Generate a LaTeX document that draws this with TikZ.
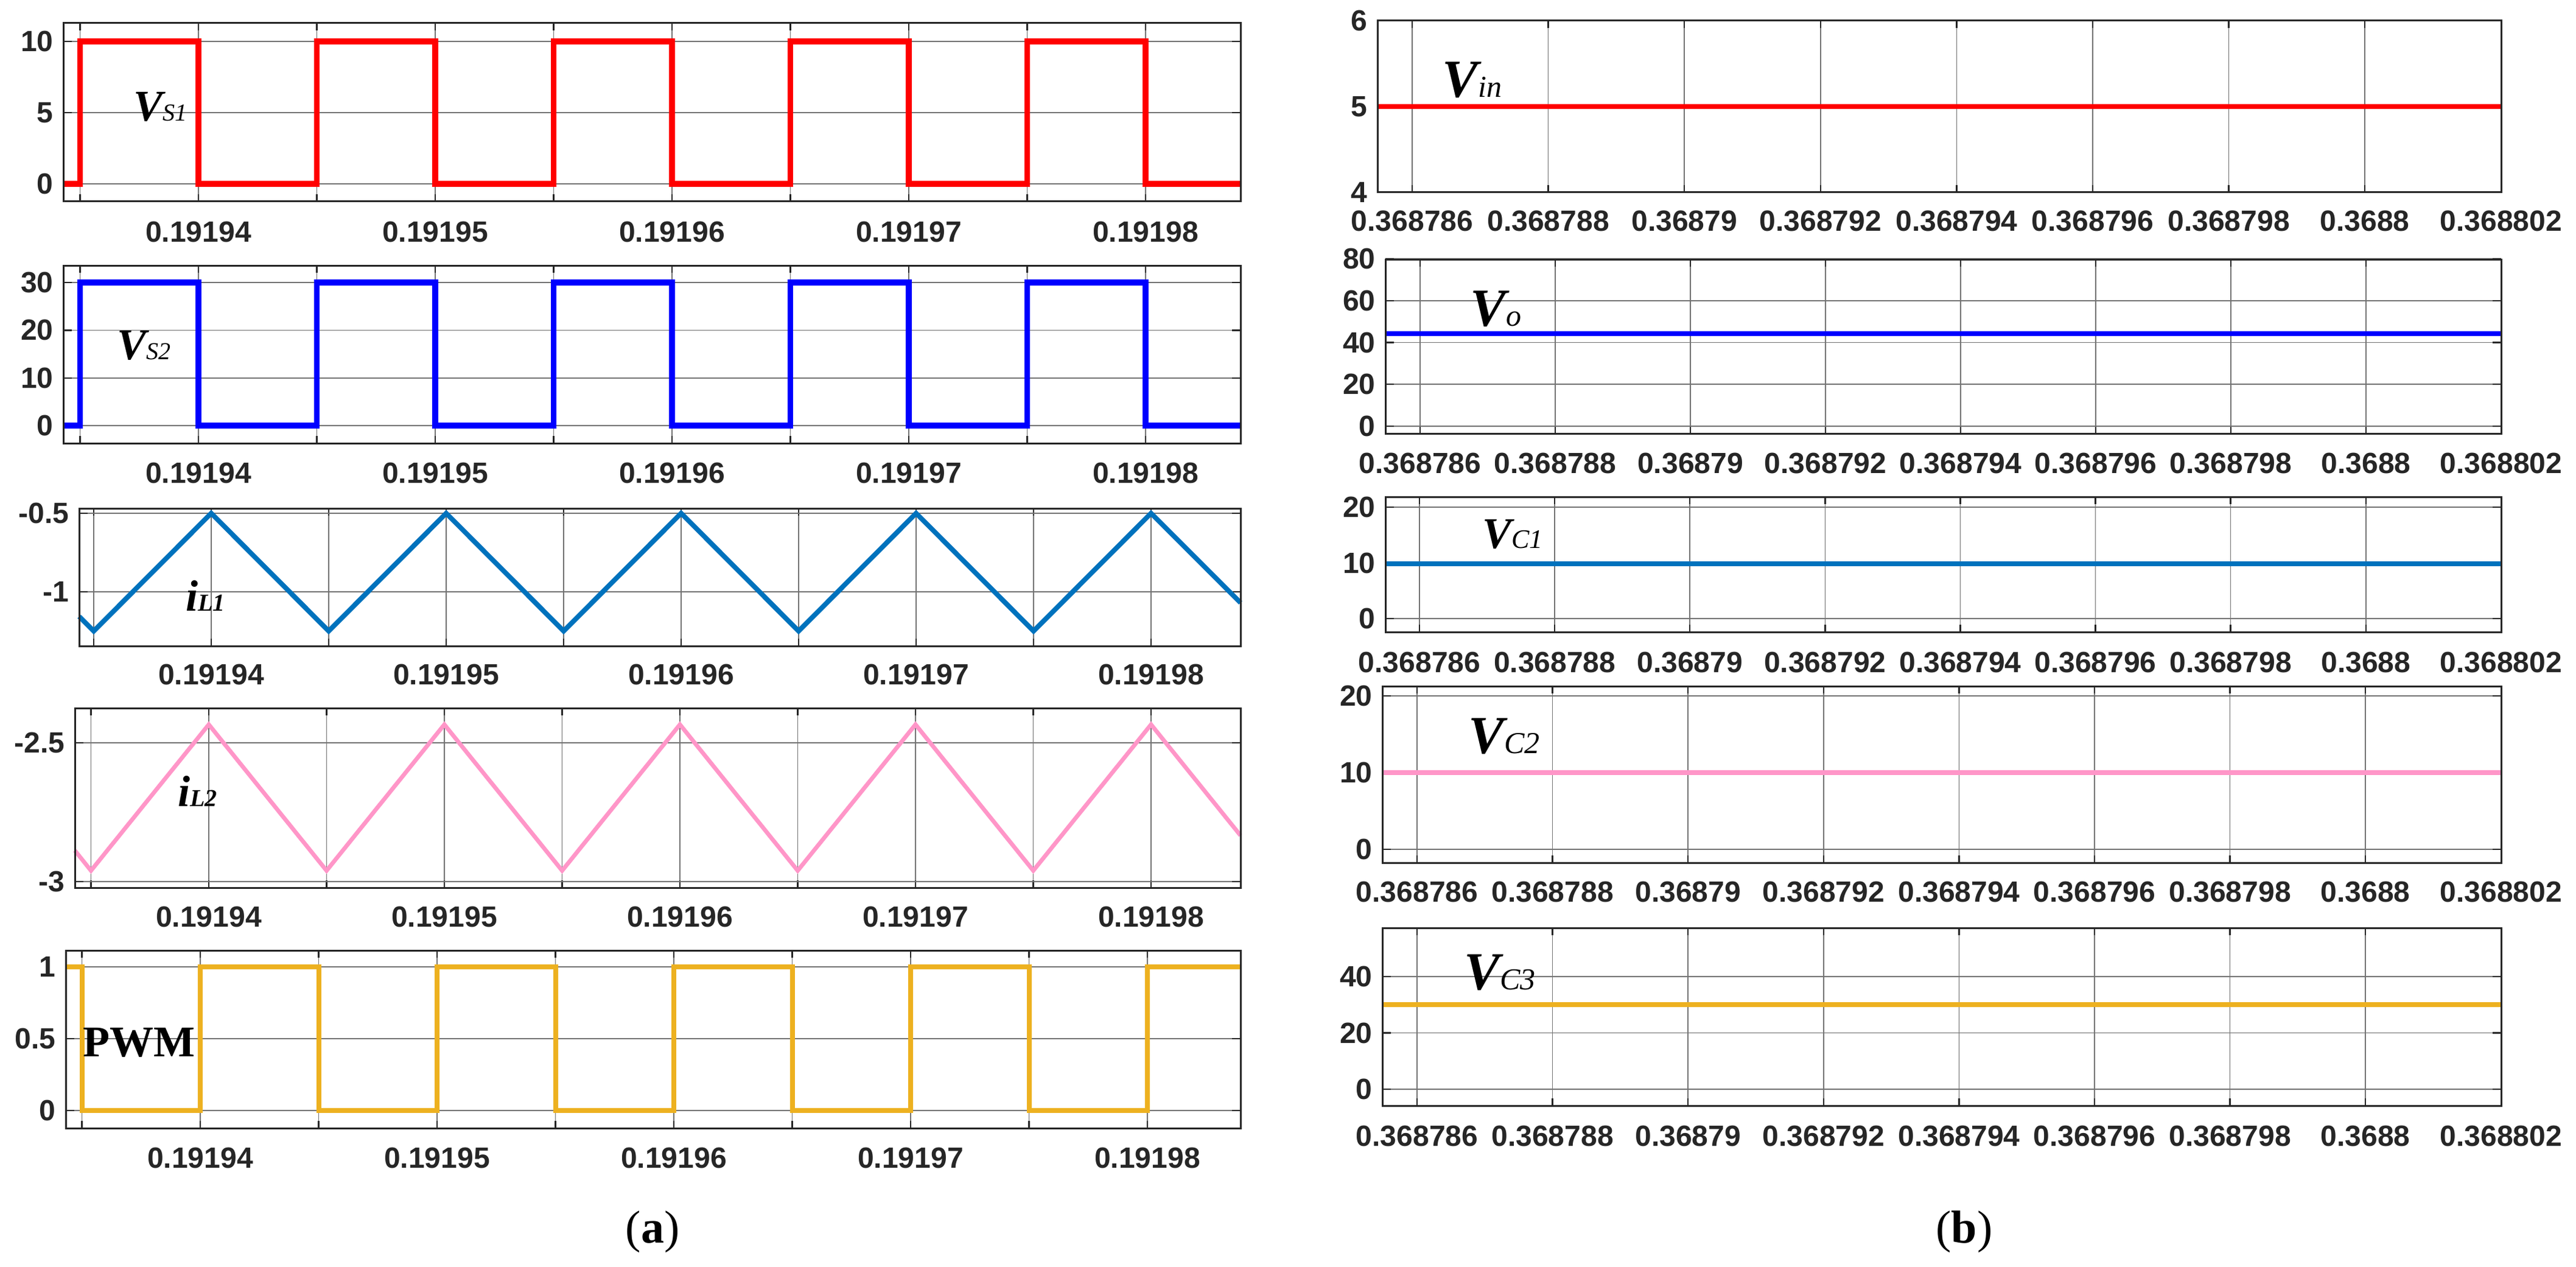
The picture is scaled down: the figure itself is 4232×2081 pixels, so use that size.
\documentclass[tikz,border=0pt]{standalone}
\usepackage{fontspec}
\newfontfamily\tickf{Liberation Sans}
\newfontfamily\lblf{Liberation Serif}
\definecolor{cred}{RGB}{255,0,0}
\definecolor{cblue}{RGB}{0,0,255}
\definecolor{cil}{RGB}{0,114,189}
\definecolor{cpink}{RGB}{255,150,200}
\definecolor{cgold}{RGB}{237,177,32}
\definecolor{axc}{RGB}{38,38,38}
\tikzset{
  gridl/.style={draw=black!55, line width=0.8pt},
  frm/.style={draw=axc, line width=1.5pt},
  tck/.style={draw=axc, line width=1.2pt},
  tlab/.style={font=\tickf\bfseries\fontsize{24}{24}\selectfont, text=axc, inner sep=0pt},
  wave/.style={line width=4.6pt, line join=miter},
  lbl/.style={font=\lblf, inner sep=0pt, anchor=base west},
}
\newcommand\lframe[8]{%
  \foreach \k in {-1,...,8}{\draw[gridl] ({#5+\k*#6},#2) -- ({#5+\k*#6},#4);
    \draw[tck] ({#5+\k*#6},#2) -- ({#5+\k*#6},#2+12) ({#5+\k*#6},#4) -- ({#5+\k*#6},#4-12);}
  \foreach \yy/\lab in {#8}{\draw[gridl] (#1,\yy) -- (#3,\yy);
    \draw[tck] (#1,\yy) -- (#1+14,\yy) (#3,\yy) -- (#3-14,\yy);
    \node[tlab, anchor=east] at (#1-16,\yy) {\lab};}
  \foreach \k/\lab in {0/0.19194,2/0.19195,4/0.19196,6/0.19197,8/0.19198}{%
    \node[tlab] at ({#5+\k*#6},#7) {\lab};}
}
\newcommand\rframe[8]{%
  \foreach \k/\lab in {0/0.368786,1/0.368788,2/0.36879,3/0.368792,4/0.368794,5/0.368796,6/0.368798,7/0.3688,8/0.368802}{%
    \draw[gridl] ({#5+\k*#6},#2) -- ({#5+\k*#6},#4);
    \draw[tck] ({#5+\k*#6},#2) -- ({#5+\k*#6},#2+12) ({#5+\k*#6},#4) -- ({#5+\k*#6},#4-12);
    \node[tlab] at ({#5+\k*#6},#7) {\lab};}
  \foreach \yy/\lab in {#8}{\draw[gridl] (#1,\yy) -- (#3,\yy);
    \draw[tck] (#1,\yy) -- (#1+14,\yy) (#3,\yy) -- (#3-14,\yy);
    \node[tlab, anchor=east] at (#1-16,\yy) {\lab};}
}
\begin{document}
\begin{tikzpicture}[x=0.5pt,y=-0.5pt]
\useasboundingbox (0,0) rectangle (4232,2081);
\fill[white] (0,0) rectangle (4232,2081);
% ---------- (a) ----------
\lframe{104}{38}{2038}{331}{326}{194.5}{381}{302/0,185/5,68/10}
\draw[wave, cred] (104,302) foreach \k in {0,...,4}{ -- ({326+(2*\k-1)*194.5},302) -- ({326+(2*\k-1)*194.5},68) -- ({326+2*\k*194.5},68) -- ({326+2*\k*194.5},302)} -- (2038,302);
\draw[frm] (104,38) rectangle (2038,331);
\node[lbl] (vs1) at (219,199) {{\fontsize{36}{36}\selectfont\bfseries\itshape V}{\fontsize{20}{20}\selectfont\itshape S1}};
\lframe{104}{436}{2038}{728}{326}{194.5}{777}{699/0,620.7/10,542.3/20,464/30}
\draw[wave, cblue] (104,699) foreach \k in {0,...,4}{ -- ({326+(2*\k-1)*194.5},699) -- ({326+(2*\k-1)*194.5},464) -- ({326+2*\k*194.5},464) -- ({326+2*\k*194.5},699)} -- (2038,699);
\draw[frm] (104,436) rectangle (2038,728);
\node[lbl] (vs2) at (192,590) {{\fontsize{36}{36}\selectfont\bfseries\itshape V}{\fontsize{20}{20}\selectfont\itshape S2}};
\lframe{130}{835}{2038}{1061}{347}{193}{1108}{843/-0.5,972/-1}
\draw[wave, cil, line width=4pt] (130,{843+258*0.657}) foreach \k in {0,...,4}{ -- ({347+(2*\k-1)*193},1036.5) -- ({347+2*\k*193},843)} -- (2038,{843+258*0.57});
\draw[frm] (130,835) rectangle (2038,1061);
\node[lbl] (il1) at (305,1003) {{\fontsize{36}{36}\selectfont\bfseries\itshape i}{\fontsize{20}{20}\selectfont\bfseries\itshape L1}};
\lframe{123}{1163}{2038}{1458}{343}{193.5}{1506}{1220/-2.5,1448/-3}
\draw[wave, cpink, line width=3.4pt] (123,{1220+456*0.388}) foreach \k in {0,...,4}{ -- ({343+(2*\k-1)*193.5},1430) -- ({343+2*\k*193.5},1190)} -- (2038,{1220+456*0.334});
\draw[frm] (123,1163) rectangle (2038,1458);
\node[lbl] (il2) at (292,1324) {{\fontsize{36}{36}\selectfont\bfseries\itshape i}{\fontsize{20}{20}\selectfont\bfseries\itshape L2}};
\lframe{108}{1561}{2038}{1853}{329}{194.5}{1902}{1824/0,1706/0.5,1588/1}
\draw[wave, cgold, line width=4pt] (108,1588) foreach \k in {0,...,4}{ -- ({329+(2*\k-1)*194.5},1588) -- ({329+(2*\k-1)*194.5},1824) -- ({329+2*\k*194.5},1824) -- ({329+2*\k*194.5},1588)} -- (2038,1588);
\draw[frm] (108,1561) rectangle (2038,1853);
\node[lbl] (pwm) at (136,1735) {\fontsize{36}{36}\selectfont\bfseries PWM};
% ---------- (b) ----------
\rframe{2263}{34}{4109}{316}{2320}{223.6}{363}{316/4,175/5,34/6}
\draw[wave, cred, line width=4.2pt] (2263,175) -- (4109,175);
\draw[frm] (2263,34) rectangle (4109,316);
\node[lbl] (vin) at (2369,160) {{\fontsize{44}{44}\selectfont\bfseries\itshape V}{\fontsize{25}{25}\selectfont\itshape in}};
\rframe{2276}{426}{4109}{712}{2333}{222}{761}{700/0,631.25/20,562.5/40,493.75/60,425/80}
\draw[wave, cblue, line width=4.2pt] (2276,548) -- (4109,548);
\draw[frm] (2276,426) rectangle (4109,712);
\node[lbl] (vo) at (2415,535) {{\fontsize{44}{44}\selectfont\bfseries\itshape V}{\fontsize{25}{25}\selectfont\itshape o}};
\rframe{2276}{816}{4109}{1038}{2332}{222.1}{1088}{1016/0,924.5/10,833/20}
\draw[wave, cil, line width=4.2pt] (2276,926) -- (4109,926);
\draw[frm] (2276,816) rectangle (4109,1038);
\node[lbl] (vc1) at (2435,900) {{\fontsize{36}{36}\selectfont\bfseries\itshape V}{\fontsize{22}{22}\selectfont\itshape C1}};
\rframe{2271}{1127}{4109}{1417}{2328}{222.6}{1465}{1395/0,1269/10,1143/20}
\draw[wave, cpink, line width=4pt] (2271,1269) -- (4109,1269);
\draw[frm] (2271,1127) rectangle (4109,1417);
\node[lbl] (vc2) at (2412,1237) {{\fontsize{44}{44}\selectfont\bfseries\itshape V}{\fontsize{25}{25}\selectfont\itshape C2}};
\rframe{2271}{1524}{4109}{1816}{2328}{222.6}{1866}{1789/0,1696.5/20,1604/40}
\draw[wave, cgold, line width=4pt] (2271,1650) -- (4109,1650);
\draw[frm] (2271,1524) rectangle (4109,1816);
\node[lbl] (vc3) at (2405,1625) {{\fontsize{44}{44}\selectfont\bfseries\itshape V}{\fontsize{25}{25}\selectfont\itshape C3}};
\node[font=\lblf\fontsize{38}{38}\selectfont, inner sep=0pt] (capa) at (1072,2023) {(\textbf{a})};
\node[font=\lblf\fontsize{38}{38}\selectfont, inner sep=0pt] (capb) at (3227,2023) {(\textbf{b})};
\end{tikzpicture}
\end{document}
